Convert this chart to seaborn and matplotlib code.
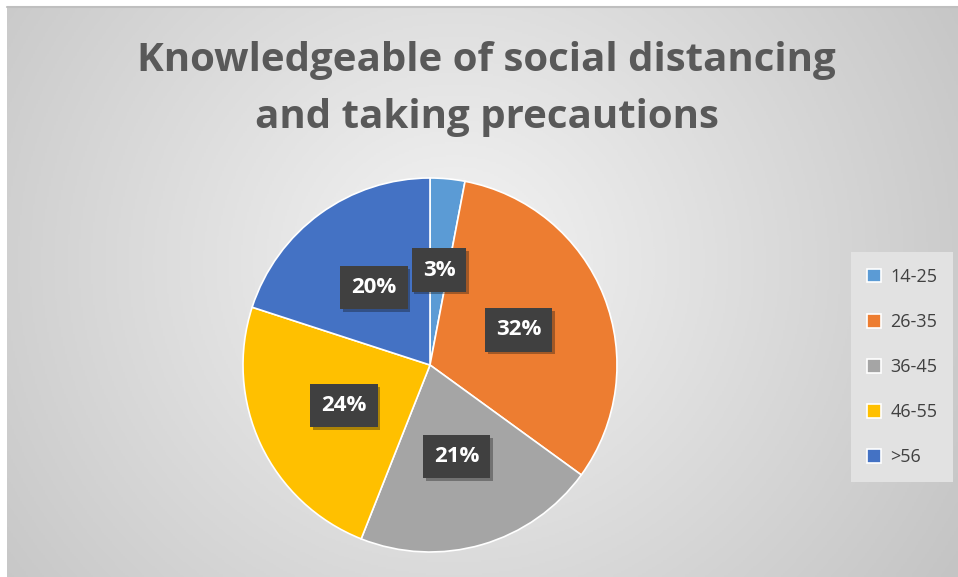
import numpy as np
import matplotlib.pyplot as plt
import matplotlib.patheffects as pe
import seaborn as sns

# dados
faixas = ['14-25', '26-35', '36-45', '46-55', '>56']
valores = [3, 32, 21, 24, 20]
cores = ['#5b9bd5', '#ed7d31', '#a5a5a5', '#ffc000', '#4472c4']
titulo = 'Knowledgeable of social distancing\nand taking precautions'

sns.set_style('white')
plt.rcParams['font.family'] = ['Open Sans', 'DejaVu Sans']

fig = plt.figure(figsize=(9.58, 5.77), dpi=100)

# fundo com gradiente radial
bg = fig.add_axes([7 / 958, 0, 951 / 958, 570 / 577])
yy, xx = np.mgrid[0:1:300j, 0:1:500j]
d = np.sqrt(((xx - 0.47) * 1.6) ** 2 + (yy - 0.45) ** 2)
d = d / d.max()
bg.imshow(d, cmap=sns.blend_palette(['#f4f4f4', '#c4c4c4'], as_cmap=True),
          aspect='auto', extent=[0, 1, 0, 1], vmin=0, vmax=1)
bg.set_axis_off()
fig.add_artist(plt.Line2D([7 / 958, 1], [570 / 577, 570 / 577], color='#bfbfbf', lw=1.5))

# pizza
R = 187
cx, cy = 430, 365
ax = fig.add_axes([(cx - R) / 958, 1 - (cy + R) / 577, 2 * R / 958, 2 * R / 577])
wedges, textos, pcts = ax.pie(valores, colors=cores, startangle=90, counterclock=False,
                              autopct='%1.0f%%', pctdistance=0.51,
                              wedgeprops=dict(linewidth=1.2, edgecolor='white'),
                              textprops=dict(color='white', fontsize=16, fontweight='bold'))
for t in pcts:
    t.set_bbox(dict(boxstyle='square,pad=0.5', facecolor='#404040', edgecolor='none'))
    t.get_bbox_patch().set_path_effects([pe.SimplePatchShadow(offset=(2, -2), alpha=0.35),
                                         pe.Normal()])
ax.set_xlim(-1, 1)
ax.set_ylim(-1, 1)
ax.set_aspect('equal')

fig.text(0.508, 1 - 89 / 577, titulo, ha='center', va='center', fontsize=29,
         fontweight='bold', color='#595959', linespacing=1.6)

leg = fig.legend(wedges, faixas, loc='center', bbox_to_anchor=(902 / 958, 1 - 367 / 577),
                 frameon=True, fontsize=13, labelcolor='#404040', handlelength=0.8,
                 handleheight=0.8, labelspacing=1.5, handletextpad=0.5,
                 borderpad=0.9, fancybox=False)
leg.get_frame().set_facecolor('#e2e2e2')
leg.get_frame().set_edgecolor('none')
leg.get_frame().set_alpha(1)

fig.savefig('out.png', dpi=100)
